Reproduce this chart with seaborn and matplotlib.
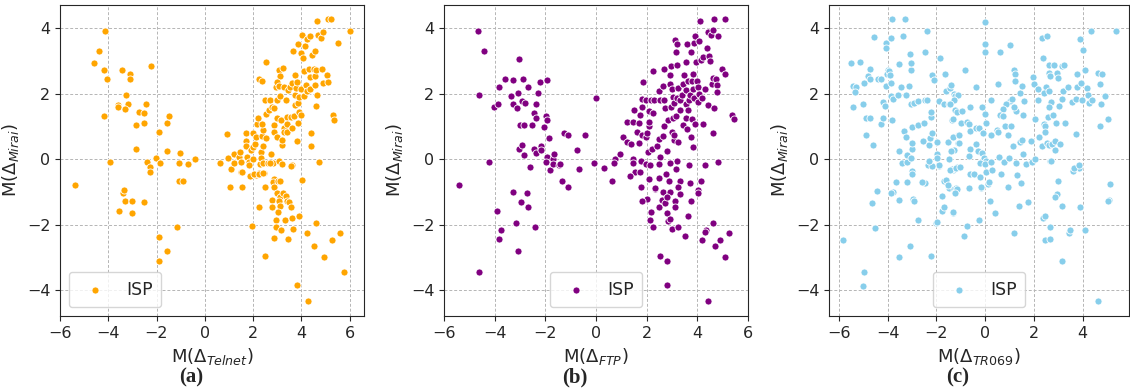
import matplotlib
matplotlib.use("Agg")
import matplotlib.pyplot as plt
import pandas as pd
import seaborn as sns

# (x, y) pairs, one list per panel
telnet = [
    (-5.37, -0.80), (-4.14, 3.91), (-4.38, 3.29), (-4.61, 2.94), (-4.16, 2.71), (-4.05, 2.44),
    (-4.16, 1.31), (-3.91, -0.09), (-3.45, 2.72), (-3.08, 2.60), (-3.10, 2.44), (-3.26, 1.96),
    (-3.58, 1.64), (-3.58, 1.59), (-3.18, 1.69), (-3.31, 1.53), (-2.74, 1.45), (-2.52, 1.42),
    (-2.42, 1.68), (-2.24, 2.83), (-2.86, 1.05), (-2.52, 1.10), (-2.84, 0.32), (-1.55, 1.10),
    (-1.49, 1.33), (-1.91, 0.83), (-1.55, 0.26), (-2.02, 0.03), (-2.40, -0.08), (-2.29, -0.24),
    (-2.26, -0.39), (-1.86, -0.12), (-1.03, 0.18), (-1.05, -0.12), (-0.71, -0.15), (-0.41, 0.01),
    (-1.05, -0.65), (-0.89, -0.68), (-3.39, -1.02), (-3.36, -0.95), (-3.31, -1.26), (-3.00, -1.28),
    (-3.57, -1.58), (-3.00, -1.63), (-2.52, -1.32), (-1.16, -2.07), (-1.88, -2.36), (-1.55, -2.80),
    (-1.91, -3.10),
    (0.65, -0.12), (0.94, 0.76), (0.98, 0.05), (1.09, -0.31), (1.20, -0.12), (1.23, 0.15),
    (1.41, 0.07), (1.45, 0.21), (1.49, -0.10), (1.49, -0.39), (1.56, -0.40), (1.03, -0.86),
    (1.56, -0.86), (1.71, 0.55), (1.71, 0.40), (1.72, 0.79), (1.74, 0.07), (1.83, -0.09),
    (1.83, -0.19), (1.86, -0.50), (1.93, 0.27), (1.98, 0.81), (1.98, 0.01), (1.99, 0.38),
    (2.08, 0.45), (2.11, 0.68), (2.12, -0.47), (2.16, 1.07), (2.22, 1.27), (2.27, -0.15),
    (2.26, -0.43), (2.32, 0.23), (2.34, 0.05), (2.37, 0.71), (2.41, 0.90), (2.38, 1.08),
    (2.42, 0.41), (2.43, -0.12), (2.44, -0.41), (2.49, -0.84), (2.52, 1.38), (2.55, 0.66),
    (2.50, 1.80), (2.55, 2.95), (2.23, 2.45), (2.37, 2.38), (2.64, -0.12), (2.66, 1.50),
    (2.71, 1.80), (2.74, 0.17), (2.78, 1.59), (2.82, -0.12), (2.85, -0.59), (2.89, 1.57),
    (2.89, 1.04), (2.89, 0.82), (2.95, 2.21), (2.98, 1.79), (3.00, 1.27), (2.98, 0.68),
    (3.06, -0.06), (3.06, 2.72), (3.25, 2.77), (3.10, 2.54), (3.00, 2.34), (3.09, 2.23),
    (3.13, 1.94), (3.17, 1.20), (3.20, 0.44), (3.21, 0.57), (3.27, 0.96), (3.29, 2.21),
    (3.30, 0.84), (3.36, 1.80), (3.39, 1.28), (3.40, 1.07), (3.41, 0.84), (3.45, 2.10),
    (3.54, 2.21), (3.60, 2.31), (3.58, 1.28), (3.60, 0.95), (3.60, -0.19), (3.65, 3.29),
    (3.68, 1.33), (3.72, 1.95), (3.75, 2.56), (3.76, 1.64), (3.79, 2.17), (3.82, 0.55),
    (3.84, 2.35), (3.85, 3.52), (3.85, 1.70), (3.88, 1.09), (3.90, 1.45), (3.90, 1.90),
    (3.97, 1.35), (3.99, 3.25), (3.99, 2.14), (4.04, -0.62), (4.05, 3.78), (4.09, 3.08),
    (4.10, 1.92), (4.13, 2.69), (4.16, 3.46), (4.20, 2.26), (4.22, 2.08), (4.24, 3.66),
    (4.31, 2.74), (4.35, 3.76), (4.36, 2.51), (4.38, 2.14), (4.42, 0.79), (4.42, 0.40),
    (4.44, 3.18), (4.52, 2.75), (4.55, 2.25), (4.57, 3.29), (4.57, 2.54), (4.59, 1.63),
    (4.63, 2.71), (4.64, 1.96), (4.66, 4.20), (4.68, 3.78), (4.75, -0.09), (4.81, 3.70),
    (4.84, 2.74), (4.89, 3.88), (4.92, 2.32), (5.06, 2.58), (5.12, 2.35), (5.11, 4.26),
    (5.22, 4.26), (5.33, 1.36), (5.37, 1.20), (5.54, 3.55), (6.04, 3.92),
    (2.05, -0.46), (2.23, -0.46), (2.41, -0.43), (2.51, -0.84), (2.25, -1.46), (1.94, -2.04),
    (2.48, -2.94), (2.73, 0.16), (2.72, -0.12), (2.88, -0.60), (2.81, -0.70), (3.02, -0.66),
    (2.88, -0.85), (3.13, -0.65), (3.00, -1.02), (3.10, -1.14), (3.25, -1.04), (3.35, -1.11),
    (3.40, -1.26), (3.48, -1.29), (2.80, -1.25), (3.07, -1.26), (3.13, -1.44), (3.03, -1.62),
    (2.78, -1.45), (3.58, -1.45), (2.97, -1.86), (3.33, -1.86), (3.63, -1.79), (3.89, -1.72),
    (2.95, -2.07), (3.16, -2.16), (3.65, -2.12), (2.89, -2.41), (3.43, -2.44), (4.24, -2.25),
    (4.60, -1.96), (4.51, -2.64), (4.96, -2.97), (5.28, -2.46), (5.62, -2.26), (5.76, -3.43),
    (3.84, -3.85), (4.27, -4.31), (3.19, -0.16), (3.58, -0.20),
]

ftp = [
    (-5.42, -0.80), (-4.65, 3.91), (-4.41, 3.29), (-4.61, 1.96), (-4.21, -0.09), (-4.01, 1.59),
    (-3.88, 1.67), (-3.81, 2.20), (-3.60, 2.45), (-3.37, 1.92), (-3.26, 2.40), (-3.29, 1.69),
    (-3.12, 1.57), (-3.08, 2.02), (-3.02, 3.05), (-3.00, 1.05), (-2.83, 1.05), (-2.93, 1.78),
    (-2.89, 2.44), (-2.79, 1.71), (-2.70, 2.21), (-3.02, 0.32), (-2.93, 0.44), (-2.85, 0.12),
    (-2.54, 1.05), (-2.46, 1.41), (-2.38, 1.26), (-2.38, 1.68), (-2.43, 0.30), (-2.36, 0.18),
    (-2.59, -0.23), (-2.30, 2.02), (-2.20, 2.36), (-2.18, 0.41), (-2.16, 0.27), (-2.06, 0.98),
    (-1.95, 2.41), (-1.96, 1.33), (-1.95, 1.18), (-1.95, 0.07), (-1.98, -0.09), (-1.84, 0.64),
    (-1.82, -0.34), (-1.71, 0.01), (-1.68, -0.14), (-1.64, 0.15), (-1.46, -0.17), (-1.33, -0.67),
    (-1.25, 0.79), (-1.12, 0.74), (-1.12, -0.86), (-3.26, -1.01), (-2.72, -1.04), (-2.96, -1.32),
    (-2.70, -1.46), (-3.91, -1.58), (-3.17, -1.93), (-3.76, -2.17), (-3.83, -2.42), (-3.08, -2.80),
    (-2.42, -2.06), (-4.62, -3.43),
    (0.00, 1.87), (-0.42, 0.74), (-0.74, 0.27), (-1.42, -0.14), (-0.66, -0.31), (-0.08, -0.12),
    (0.32, -0.26), (0.63, -0.68), (0.75, 0.01), (0.72, -0.12), (0.96, 0.15), (1.08, 0.67),
    (1.21, 0.51), (1.38, 0.46), (1.22, 1.12), (1.45, 1.12), (1.50, 1.50), (1.62, 0.84),
    (1.70, 1.09), (1.68, 0.48), (1.75, 1.34), (1.81, 0.74), (1.83, 1.60), (1.80, 1.82),
    (1.87, 2.36), (1.98, 1.80), (1.97, 0.69), (2.02, 0.79), (2.06, 0.23), (2.10, 1.00),
    (2.10, 1.46), (2.10, 1.12), (2.17, 1.80), (2.26, 2.69), (2.26, 1.41), (2.30, 1.80),
    (2.21, 0.30), (2.39, 0.41), (2.50, 2.08), (2.51, 1.80), (2.47, 0.61), (2.52, 0.07),
    (2.64, 2.23), (2.68, 1.80), (2.67, 1.00), (2.66, 0.71), (2.70, 2.74), (2.72, 1.57),
    (2.79, 0.25), (2.85, 1.20), (2.93, 2.56), (2.92, 2.28), (2.96, 2.84), (2.99, 2.13),
    (2.97, 1.60), (3.00, 0.84), (3.04, 1.27), (3.05, 1.91), (3.08, 1.71), (3.08, 0.60),
    (3.10, 3.63), (3.14, 3.27), (3.18, 2.88), (3.18, 3.51), (3.09, 0.73), (3.16, 1.31),
    (3.19, 1.86), (3.25, 2.17), (3.23, 0.53), (3.30, 1.80), (3.33, 1.50), (3.39, 1.97),
    (3.42, 1.04), (3.43, 2.28), (3.48, 2.56), (3.54, 2.97), (3.54, 2.11), (3.54, 1.67),
    (3.57, 1.26), (3.58, 0.91), (3.62, 2.38), (3.60, 3.52), (3.64, 1.50), (3.66, 1.80),
    (3.71, 1.97), (3.75, 3.27), (3.78, 2.38), (3.76, 0.68), (3.79, 1.23), (3.82, 0.38),
    (3.82, 2.60), (3.84, 2.13), (3.88, 3.55), (3.88, 1.86), (3.89, 3.75), (3.92, 1.07),
    (3.96, 2.96), (3.98, 2.38), (4.01, 2.20), (4.01, 1.74), (4.05, 1.99), (4.08, 3.61),
    (4.10, 4.20), (4.13, 3.02), (4.20, 1.87), (4.21, 3.10), (4.24, 1.07), (4.32, 2.15),
    (4.37, 3.38), (4.41, 3.88), (4.42, 1.66), (4.45, 3.15), (4.49, 2.98), (4.55, 3.79),
    (4.57, 2.30), (4.60, 3.93), (4.60, 2.49), (4.63, 0.79), (4.64, 4.26), (4.64, 1.56),
    (4.72, 2.43), (4.76, 2.25), (4.79, 2.06), (4.81, 3.77), (4.98, 2.74), (5.09, 2.60),
    (5.10, 4.26), (5.35, 1.36), (5.44, 1.22), (4.30, -0.19), (4.83, -0.09), (3.66, -0.19),
    (3.21, -0.06), (2.92, -0.12), (2.49, -0.14), (1.78, -0.07), (1.96, -0.14), (2.13, -0.17),
    (1.45, 0.00), (1.45, -0.12), (1.53, -0.40), (1.73, -0.39), (1.35, -0.51), (2.10, -0.61),
    (1.78, -0.86), (2.47, -0.56), (2.77, -0.45), (2.90, -0.67), (3.14, -0.31), (3.30, -0.65),
    (3.71, -0.72), (4.13, -0.65), (4.03, -0.95), (2.34, -0.90), (2.64, -1.00), (2.93, -1.01),
    (3.23, -0.85), (2.03, -1.20), (1.81, -1.26), (2.17, -1.62), (2.12, -1.86), (2.26, -2.07),
    (2.33, -0.88), (2.47, -1.45), (2.59, -1.24), (2.71, -1.35), (2.79, -1.14), (2.80, -1.63),
    (2.85, -1.87), (2.91, -1.81), (2.99, -2.12), (3.12, -1.28), (3.10, -1.45), (3.33, -1.07),
    (3.23, -2.07), (3.52, -2.35), (3.64, -1.72), (3.75, -1.28), (4.04, -1.03), (4.33, -2.17),
    (4.29, -2.23), (4.18, -2.45), (4.62, -1.96), (4.70, -2.64), (4.90, -2.46), (5.08, -2.97),
    (5.26, -2.26), (2.51, -2.95), (2.79, -3.10), (2.81, -3.85), (4.43, -4.31),
]

tr069 = [
    (-5.48, 2.94), (-5.12, 2.97), (-5.42, 2.23), (-5.30, 2.19), (-5.34, 2.06), (-5.42, 1.60),
    (-5.00, 1.69), (-4.95, 2.31), (-4.73, 2.75), (-4.81, 2.54), (-4.70, 2.44), (-4.87, 1.25),
    (-4.73, 1.25), (-4.89, 0.74), (-4.61, 0.42), (-4.57, 3.71), (-4.39, 2.45), (-4.27, 2.43),
    (-4.26, 1.07), (-4.20, 1.74), (-4.17, 1.27), (-4.09, 1.62), (-4.07, 2.23), (-4.05, 3.54),
    (-4.05, 3.39), (-3.98, 2.72), (-4.04, 2.60), (-3.94, 2.68), (-3.91, 2.56), (-3.86, 3.68),
    (-3.84, 2.33), (-3.84, 1.93), (-3.81, 4.26), (-3.80, 1.20), (-3.76, 1.82), (-3.59, 1.96),
    (-3.54, 2.89), (-3.51, 0.24), (-3.43, 2.20), (-3.41, -0.12), (-3.37, 3.75), (-3.31, 0.85),
    (-3.27, 4.26), (-3.25, 0.68), (-3.22, -0.10), (-3.24, 1.96), (-3.19, 0.12), (-3.12, 2.23),
    (-3.08, 3.22), (-3.05, 2.71), (-3.04, 2.94), (-3.04, 1.67), (-3.00, 0.30), (-2.99, 0.48),
    (-3.00, 0.98), (-2.99, -0.37), (-2.90, 1.72), (-2.75, 1.04), (-2.74, 1.77), (-2.55, 0.55),
    (-2.50, 1.09), (-2.47, 1.79), (-2.46, 3.27), (-2.37, 3.90), (-2.39, 1.79), (-2.30, 0.42),
    (-2.26, 0.66), (-2.22, 1.29), (-2.22, 1.43), (-2.18, 0.80), (-2.17, 2.56), (-2.09, 2.41),
    (-1.99, 0.51), (-1.99, 0.15), (-1.89, 1.76), (-1.89, -0.21), (-1.86, 3.08), (-1.67, 1.67),
    (-1.65, 2.59), (-1.59, 2.07), (-1.54, 0.52), (-1.48, 1.67), (-1.42, 2.17), (-1.34, 1.20),
    (-1.33, 0.67), (-1.29, 0.29), (-1.33, -0.33), (-1.27, 1.99), (-1.24, 1.49), (-1.11, 0.74),
    (-1.11, 0.48), (-1.14, -0.25), (-1.49, -0.88), (-2.47, -0.72), (-3.19, -0.71), (-3.66, -0.71),
    (-4.45, -0.97), (-3.76, -0.99), (-1.67, -0.65), (-1.28, -0.91),
    (-5.84, -2.46), (-4.95, -3.43), (-5.00, -3.87), (-4.62, -1.35), (-4.50, -2.11), (-3.52, -1.24),
    (-3.85, -1.02), (-2.98, -0.45), (-2.97, -1.20), (-2.93, -1.27), (-2.58, -0.69), (-2.74, -1.86),
    (-3.08, -2.64), (-3.51, -2.97), (-2.21, -2.95), (-2.03, -1.95), (-1.98, -1.92), (-1.90, -0.19),
    (-1.78, -1.58), (-1.75, -1.12), (-1.67, -1.47), (-1.62, -0.62), (-1.52, -0.78), (-1.37, -0.30),
    (-1.32, -1.63), (-1.24, -1.01), (-1.19, -0.89), (-2.33, -0.18), (-2.16, -0.21), (-2.30, -0.07),
    (-1.96, 0.05), (-3.03, 0.04),
    (-1.40, 2.26), (-1.25, 1.94), (-1.13, 1.95), (-1.26, 1.80), (-1.42, 1.68), (-1.14, 1.45),
    (-0.94, 1.48), (-1.30, 1.21), (-0.99, 1.10), (-0.75, 1.13), (-0.68, 1.07), (-0.62, 1.60),
    (-0.84, 2.71), (-0.38, 2.19), (0.00, 4.19), (0.00, 3.51), (0.00, 3.26), (0.26, 1.81),
    (-0.12, 1.58), (0.01, 1.37), (0.02, 1.11), (-1.31, 0.67), (-1.07, 0.75), (-0.62, 0.86),
    (-0.39, 0.94), (-0.23, 0.94), (-0.07, 0.79), (0.24, 0.74), (0.54, 2.28), (0.63, 3.28),
    (1.02, 3.48), (1.19, 2.72), (1.21, 2.59), (1.22, 2.37), (1.42, 2.01), (1.51, 2.23),
    (1.58, 1.76), (1.02, 1.77), (1.12, 1.82), (0.87, 1.68), (0.74, 1.52), (0.60, 1.36),
    (0.75, 1.32), (1.25, 1.46), (1.17, 1.60), (1.57, 1.34), (0.82, 1.00), (1.07, 1.02),
    (0.47, 0.90), (0.54, 0.84), (0.92, 0.75), (1.16, 0.39), (1.42, 0.53), (1.51, 0.58),
    (1.54, 0.17), (0.57, 0.06), (0.76, -0.10), (1.00, 0.04), (1.28, -0.12), (1.67, -0.14),
    (1.94, -0.10), (2.03, 0.00), (1.88, 0.54), (1.98, 2.50), (2.02, 2.28), (2.06, 1.24),
    (2.15, 1.81), (2.18, 2.15), (2.21, 0.68), (2.34, 3.70), (2.54, 3.77), (2.37, 3.09),
    (2.34, 0.41), (2.41, 1.07), (2.47, 1.02), (2.46, 0.83), (2.53, 0.48), (2.49, 2.21),
    (2.40, 2.02), (2.61, 2.87), (2.84, 2.87), (2.64, 2.62), (2.68, 2.54), (2.64, 2.08),
    (2.69, 1.75), (2.59, 1.29), (2.64, 1.58), (2.80, 1.34), (2.64, 0.44), (2.75, 0.47),
    (2.67, -0.06), (2.86, 0.29), (2.87, 0.55), (2.89, 1.10), (2.93, 2.62), (3.00, 2.49),
    (3.01, 1.63), (3.09, 0.47), (3.14, 2.85), (3.22, 2.87), (3.14, 1.82), (3.21, 2.07),
    (3.26, 1.11), (3.40, 2.20), (3.55, 1.74), (3.60, -0.35), (3.71, 1.84), (3.74, 0.77),
    (3.75, 2.20), (3.77, 2.60), (3.87, -0.28), (3.90, 3.66), (3.94, 2.33), (3.96, 1.81),
    (4.01, 3.32), (4.10, 2.71), (4.17, 2.17), (4.21, 1.96), (4.25, 1.71), (4.33, 3.92),
    (4.40, 1.81), (4.62, 2.64), (4.73, 2.30), (4.77, 1.67), (4.80, 2.60), (4.90, 1.94),
    (4.70, 1.00), (5.03, 1.22), (5.37, 3.91), (5.12, -0.75),
    (-1.08, 0.48), (-1.38, 0.25), (-1.49, 0.01), (-0.62, 0.32), (-0.36, 0.46), (-0.64, 0.09),
    (-0.30, 0.25), (-0.14, 0.18), (-0.04, 0.05), (0.04, -0.04), (-0.22, -0.11), (0.00, -0.14),
    (0.24, -0.10), (-1.42, -0.33), (-1.19, -0.27), (-1.02, -0.25), (-0.62, -0.44), (-0.47, -0.44),
    (-0.20, -0.55), (0.02, -0.38), (0.28, -0.34), (0.67, -0.44), (0.13, -0.75), (1.30, -0.47),
    (1.49, -0.72), (-0.68, -0.88), (-1.15, -0.90), (-1.22, -1.04), (-0.18, -0.88), (0.95, -0.86),
    (2.98, -0.65), (2.94, -1.07), (2.87, -1.15), (5.08, -1.23),
    (-0.16, -0.85), (-1.31, -1.62), (-0.75, -2.05), (-0.88, -2.35), (-0.23, -1.86), (0.15, -0.69),
    (0.20, -1.26), (0.39, -1.63), (1.20, -2.25), (1.41, -1.44), (1.76, -1.32), (2.38, -1.78),
    (2.45, -1.73), (2.67, -2.08), (2.45, -2.45), (2.68, -2.42), (3.17, -1.44), (3.14, -3.09),
    (3.45, -2.25), (3.49, -2.16), (3.63, -0.27), (3.86, -0.19), (3.91, -1.46), (4.10, -2.16),
    (4.61, -4.31), (5.05, -1.27), (2.69, -0.05),
]

panels = [
    (telnet, "#FFA500", r"M($\Delta_{Telnet}$)", "(a)", "lower left", (-6.0, 6.6)),
    (ftp, "#800080", r"M($\Delta_{FTP}$)", "(b)", "lower center", (-6.0, 6.0)),
    (tr069, "#87CEEB", r"M($\Delta_{TR069}$)", "(c)", "lower center", (-6.4, 5.9)),
]

sns.set_style("ticks")

W, H = 1130, 392
fig = plt.figure(figsize=(W / 100, H / 100), dpi=100)
lefts = [60, 444, 829]
widths = [304, 304, 300]

for (pts, color, xlabel, tag, loc, xlim), left, width in zip(panels, lefts, widths):
    ax = fig.add_axes([left / W, (H - 316) / H, width / W, 311 / H])
    df = pd.DataFrame(pts, columns=["x", "y"])
    sns.scatterplot(data=df, x="x", y="y", color=color, s=26, edgecolor="white",
                    linewidth=0.6, label="ISP", ax=ax, zorder=3)
    ax.set_xticks([-6, -4, -2, 0, 2, 4, 6])
    ax.set_yticks([-4, -2, 0, 2, 4])
    ax.set_xlim(*xlim)
    ax.set_ylim(-4.78, 4.7)
    ax.grid(True, linestyle=(0, (3, 2)), color="#b5b5b5", linewidth=0.7)
    ax.set_axisbelow(True)
    ax.tick_params(labelsize=11.5)
    ax.set_xlabel(xlabel, fontsize=13)
    ax.set_ylabel(r"M($\Delta_{Mirai}$)", fontsize=13)
    ax.legend(loc=loc, fontsize=12.5, borderpad=0.5)
    cx = (left + width / 2 - 21) / W
    fig.text(cx, 1 - 377 / H, tag, ha="center", va="center", fontsize=15,
             fontweight="bold", family="Liberation Serif")

fig.savefig("out.png", dpi=100)
